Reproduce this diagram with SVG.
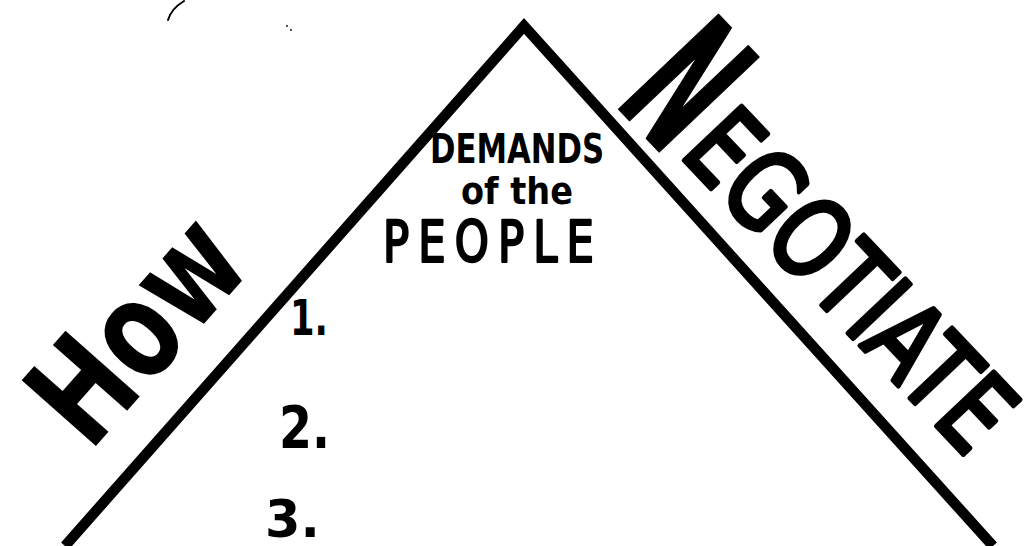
<svg xmlns="http://www.w3.org/2000/svg" width="1025" height="546" viewBox="0 0 1025 546">
<style>
.ink{fill:#000;font-family:"DejaVu Sans","Liberation Sans",sans-serif;font-weight:bold}
.hand{fill:#000;stroke:#000;stroke-linejoin:round;font-family:"DejaVu Sans","Liberation Sans",sans-serif;font-weight:normal}
.edge{fill:none;stroke:#000;stroke-width:10.5;stroke-linejoin:miter;stroke-linecap:butt}
.speck{fill:none;stroke:#000;stroke-width:2;stroke-linecap:round}
</style>
<rect width="1025" height="546" fill="#fff"/>
<g id="triangle">
<path class="edge" d="M65,546 L524,26 L993,546"/>
</g>
<g id="marks">
<path class="speck" d="M168,20 Q171,9 184,1"/>
<circle cx="287" cy="26" r="0.9" fill="#000"/>
<circle cx="291" cy="30" r="0.9" fill="#000"/>
</g>
<g id="how">
<text class="ink" font-size="136" transform="translate(95,447) rotate(-48.5)" x="-8" y="0" textLength="248" lengthAdjust="spacingAndGlyphs">How</text>
</g>
<g id="negotiate">
<text class="hand" transform="translate(620,110) rotate(46.5)"><tspan x="-10" y="0" font-size="188" font-weight="bold" stroke-width="2" textLength="76" lengthAdjust="spacingAndGlyphs">N</tspan><tspan x="72" y="-12" font-size="108" stroke-width="5" textLength="420" lengthAdjust="spacingAndGlyphs">EGOTIATE</tspan></text>
</g>
<g id="heading">
<text class="ink" x="430" y="163" font-size="41" textLength="174" lengthAdjust="spacingAndGlyphs">DEMANDS</text>
<text class="ink" x="461" y="204" font-size="38" textLength="112" lengthAdjust="spacingAndGlyphs">of the</text>
<text class="hand" stroke-width="2.6" x="383" y="262" font-size="57" letter-spacing="12" textLength="220" lengthAdjust="spacingAndGlyphs">PEOPLE</text>
</g>
<g id="list">
<text class="ink" x="290" y="335" font-size="49" textLength="38" lengthAdjust="spacingAndGlyphs">1.</text>
<text class="ink" x="279" y="448" font-size="58" textLength="51" lengthAdjust="spacingAndGlyphs">2.</text>
<text class="ink" x="265" y="537" font-size="51">3.</text>
</g>
</svg>
